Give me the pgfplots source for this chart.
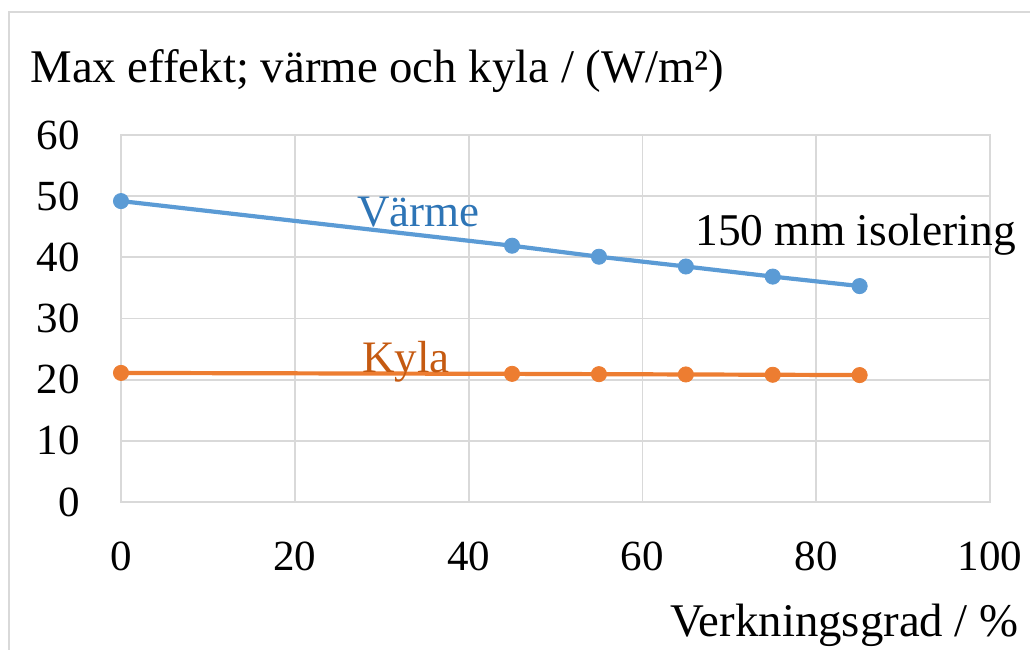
\documentclass[border=0pt]{standalone}
\usepackage{fontspec}
\setmainfont{Liberation Serif}
\usepackage{pgfplots}
\pgfplotsset{compat=1.18}
\definecolor{gridc}{HTML}{D9D9D9}
\definecolor{blueL}{HTML}{5B9BD5}
\definecolor{orangeL}{HTML}{ED7D31}
\definecolor{blueT}{HTML}{2E75B6}
\definecolor{orangeT}{HTML}{C55A11}
\begin{document}
\begin{tikzpicture}
\useasboundingbox (0,0) rectangle (515bp,325bp);
\clip (0,0) rectangle (515bp,325bp);
\draw[gridc, line width=0.9bp] (4.5bp,-10bp) -- (4.5bp,319bp) -- (530bp,319bp);
\begin{axis}[
  at={(60.5bp,74bp)}, anchor=south west,
  scale only axis, width=434.5bp, height=183.5bp,
  xmin=0, xmax=100, ymin=0, ymax=60,
  xtick={0,20,...,100}, ytick={0,10,...,60},
  grid=major, grid style={gridc, line width=0.9bp},
  axis line style={gridc, line width=0.9bp},
  major tick length=0pt, tick style={draw=none},
  ticklabel style={font=\fontsize{21.5bp}{24bp}\selectfont},
  /pgf/number format/assume math mode=true,
  yticklabel style={anchor=east, inner sep=0pt, xshift=-20.5bp},
  xticklabel style={anchor=north, inner sep=0pt, yshift=-20bp},
  clip=false,
]
\addplot[color=blueL, line width=2.1bp, mark=*, mark size=3.8bp,
  mark options={fill=blueL, draw=blueL, line width=0.4bp}]
  coordinates {(0,49.2) (45,41.9) (55,40.1) (65,38.5) (75,36.85) (85,35.3)};
\addplot[color=orangeL, line width=2.1bp, mark=*, mark size=3.8bp,
  mark options={fill=orangeL, draw=orangeL, line width=0.4bp}]
  coordinates {(0,21.1) (45,20.95) (55,20.9) (65,20.85) (75,20.8) (85,20.75)};
\node[anchor=base west, inner sep=0pt, text=blueT, font=\fontsize{22.5bp}{26bp}\selectfont] at (axis cs:27.16,44.96) {Värme};
\node[anchor=base west, inner sep=0pt, text=orangeT, font=\fontsize{22.5bp}{26bp}\selectfont] at (axis cs:27.7,21.09) {Kyla};
\node[anchor=base west, inner sep=0pt, text=black, font=\fontsize{22.7bp}{26bp}\selectfont] at (axis cs:66.05,42.0) {150 mm isolering};
\end{axis}
\node[anchor=base west, inner sep=0pt, font=\fontsize{23.4bp}{26bp}\selectfont] at (15bp,283.5bp) {Max effekt; värme och kyla / (W/m²)};
\node[anchor=base east, inner sep=0pt, font=\fontsize{23.4bp}{26bp}\selectfont] at (509.5bp,7bp) {Verkningsgrad / \%};
\end{tikzpicture}
\end{document}
